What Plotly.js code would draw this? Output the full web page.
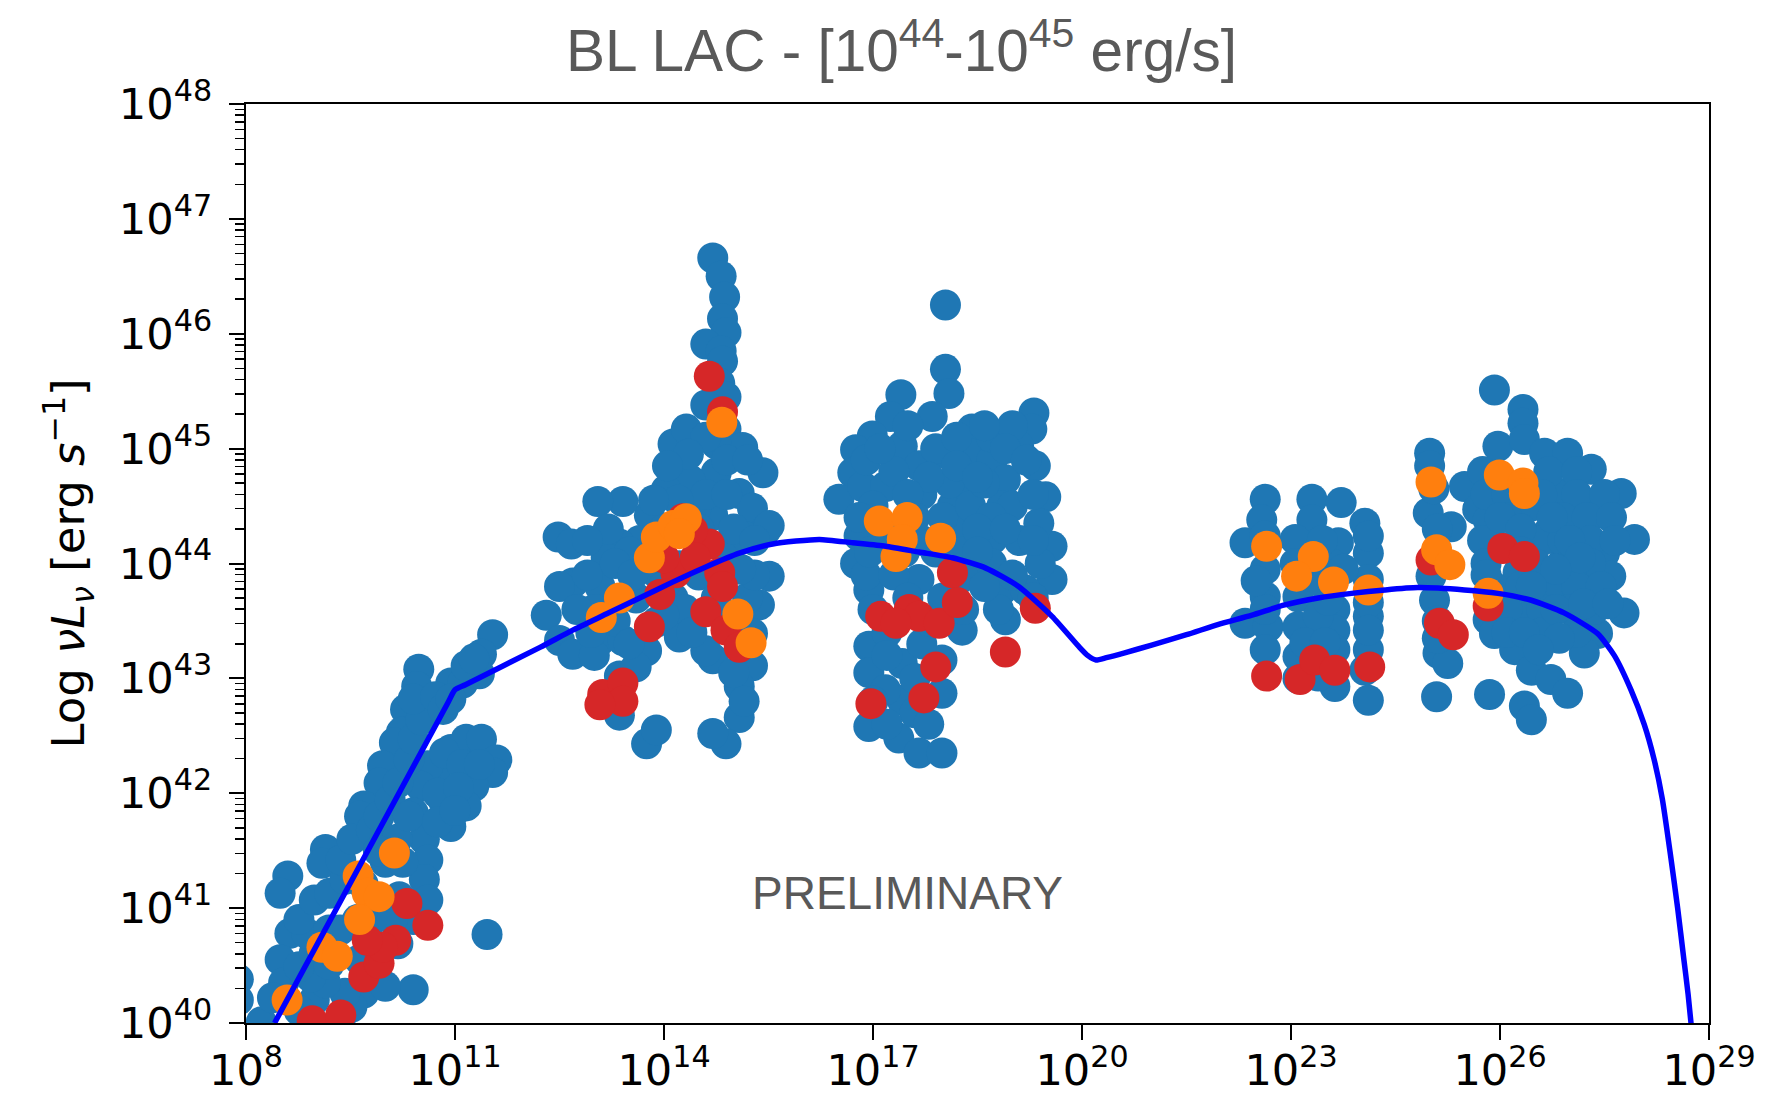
<!DOCTYPE html>
<html>
<head>
<meta charset="utf-8">
<script src="https://cdn.plot.ly/plotly-3.0.1.min.js"></script>
<style>html,body{margin:0;padding:0;background:#fff;}#chart{width:1778px;height:1095px;}</style>
</head>
<body>
<div id="chart"></div>
<script>
// All values are log10 of the quantity
// x: log10 frequency nu [Hz], y: log10 nuL_nu [erg/s]
const blueLogNu = [
 // radio
 11.54,11.38,11.35,10.94,10.48,10.45,10.61,10.29,10.23,10.13,9.96,9.91,9.69,9.63,9.14,9.09,8.60,8.49,8.63,8.49,8.54,8.98,8.76,8.22,7.89,7.89,10.40,11.46,10.94,11.16,11.38,11.60,11.54,11.27,11.16,10.94,10.83,10.72,10.61,10.51,10.40,10.56,10.61,10.56,10.61,10.40,10.18,9.91,9.63,9.69,9.52,9.42,9.14,8.93,8.76,8.98,8.87,8.76,8.98,9.20,9.42,9.36,9.52,9.80,9.91,10.07,10.18,10.34,10.40,10.51,10.40,10.72,11.11,11.16,11.27,10.83,10.94,
 8.38,9.19,9.35,9.68,10.0,10.17,9.84,9.19,9.35,10.0,10.25,10.33,10.2,9.9,9.6,10.1,
 10.85,11.1,11.35,10.75,11.05,10.75,11.0,
 // IR-optical-UV
 14.70,14.82,14.87,14.84,14.89,14.60,14.82,14.84,14.80,14.89,14.60,14.89,14.13,14.32,15.13,15.42,14.75,14.75,14.37,14.03,15.08,15.27,15.46,15.51,15.37,15.27,15.27,15.08,15.08,14.89,14.70,14.70,14.89,14.89,15.18,14.70,14.46,13.79,13.65,13.41,13.05,12.48,12.67,13.10,13.36,12.69,12.50,12.31,12.50,12.69,13.08,13.17,13.08,13.41,13.75,13.89,14.22,14.13,14.22,13.89,13.36,13.36,13.75,13.89,14.60,15.51,
 13.0,13.3,13.6,13.7,14.0,14.3,14.5,14.5,14.0,13.5,13.2,12.9,13.0,13.6,14.6,14.9,15.0,15.2,15.3,14.6,
 12.9,13.3,13.55,14.2,14.9,15.2,15.3,15.1,14.75,14.4,12.95,12.75,13.5,14.0,15.0,15.0,15.15,13.85,14.35,14.05,
 // X-ray
 18.04,18.04,18.09,17.40,17.25,17.85,18.42,19.31,19.28,19.09,16.99,16.75,16.71,16.51,16.85,17.42,17.66,18.04,18.38,18.71,18.90,19.33,19.48,18.85,18.33,18.14,17.18,16.80,16.75,16.94,17.66,18.23,18.57,18.85,19.57,19.57,19.38,18.71,18.28,18.90,18.28,16.94,16.94,17.42,17.99,17.99,17.42,16.94,17.37,17.66,17.99,17.18,19.19,
 16.9,17.3,17.7,18.1,17.0,17.5,17.9,18.2,16.8,17.2,17.6,18.0,18.4,16.9,17.3,17.9,18.3,17.0,17.5,18.0,18.3,17.2,17.7,17.2,17.6,17.0,17.6,17.2,17.8,18.7,19.0,18.6,19.0,19.3,18.7,19.1,19.4,18.7,19.0,19.3,18.8,
 17.1,17.8,18.2,18.5,18.9,19.2,16.95,17.45,17.7,18.5,18.9,19.3,18.5,18.6,17.8,17.5,18.6,
 // Fermi-LAT
 22.63,22.58,22.34,22.63,22.63,22.34,22.67,22.63,23.30,23.30,23.72,24.06,23.68,23.06,24.11,24.11,24.11,23.10,23.63,23.10,23.63,23.10,23.63,24.11,23.63,24.11,
 23.06,23.39,23.58,23.39,23.20,23.49,23.39,23.53,24.11,24.11,24.11,24.06,22.63,22.63,23.1,
 23.45,22.5,23.25,23.75,
 // TeV
 25.92,26.33,26.33,24.99,24.99,25.97,26.35,26.64,26.97,27.31,27.74,27.93,25.49,24.97,25.68,26.45,26.92,27.40,27.12,27.50,27.59,27.78,26.92,26.69,25.83,25.01,25.06,25.11,25.25,25.83,25.92,26.45,26.92,27.40,27.21,26.21,26.45,26.73,26.97,26.35,26.45,25.09,25.85,26.26,25.97,25.30,
 25.75,26.7,27.1,25.8,26.1,26.6,27.1,27.5,26.1,26.9,27.25,27.6,25.75,26.6,26.9,27.3,27.65,25.8,26.5,27.0,27.3,25.9,26.3,26.7,27.1,27.45,26.1,26.6,27.0,27.35,26.1,26.6,27.1,25.05,25.1,25.05,25.1,25.1,
 26.0,26.3,26.75,27.0,27.15,26.3,26.8,26.45,26.8,27.2,27.55,26.35,26.85,25.8,26.55
];
const blueLogL = [
 43.38,43.21,43.04,42.96,43.08,42.93,42.76,42.73,42.53,42.44,42.24,42.09,41.89,41.80,41.51,41.39,41.28,41.13,40.78,40.55,40.35,40.20,40.11,40.01,40.38,40.20,40.29,40.77,42.38,42.47,42.47,42.29,42.18,42.06,41.89,41.71,41.94,42.18,42.24,42.06,41.83,41.60,41.42,41.25,41.07,40.90,40.69,40.61,40.55,40.26,40.14,40.26,40.35,40.40,40.49,40.61,40.78,40.90,41.07,41.13,41.25,41.42,41.60,41.68,41.80,41.94,42.09,42.29,42.47,42.64,42.82,42.84,42.96,43.11,43.17,42.73,42.82,
 40.22,40.81,40.81,41.21,41.40,41.60,40.91,40.51,40.02,40.32,41.40,41.80,41.1,41.5,40.9,40.9,
 42.35,42.25,42.25,42.0,42.05,41.75,41.85,
 46.66,46.50,46.32,46.13,46.01,45.91,45.85,45.76,45.57,45.45,45.38,45.17,45.04,45.17,45.01,44.79,45.04,44.79,44.73,44.64,44.61,44.48,44.29,43.89,43.64,43.39,43.11,42.93,42.66,42.43,42.52,43.17,43.48,44.11,44.23,44.42,44.48,44.42,44.20,44.54,44.54,44.23,44.17,44.20,44.17,43.83,43.80,43.55,43.33,43.21,43.80,44.05,43.33,43.33,43.24,43.49,43.36,43.70,43.98,43.92,43.02,42.68,42.43,42.55,43.24,44.33,
 43.6,43.5,43.7,44.0,43.8,43.6,43.9,44.3,44.3,44.1,44.3,43.9,43.2,43.1,44.6,44.9,44.3,43.7,43.9,45.1,
 44.2,44.0,43.9,44.55,44.6,44.9,44.2,43.95,43.7,43.4,43.4,43.6,43.3,43.55,43.5,43.05,42.8,44.55,44.95,44.85,
 46.25,45.69,45.48,45.47,45.28,45.28,45.17,45.31,45.17,45.02,45.11,44.99,44.79,44.56,44.67,45.02,44.85,44.96,44.96,44.90,44.73,44.85,44.58,44.50,44.67,44.50,44.67,44.24,44.00,43.77,43.86,43.86,43.97,43.77,43.86,44.15,44.35,44.21,44.32,43.51,43.42,43.28,43.05,43.13,43.16,42.87,42.81,42.58,42.48,42.35,42.35,42.90,43.77,
 44.9,44.8,44.6,44.7,44.5,45.2,45.0,45.1,44.4,44.3,44.4,44.4,44.5,43.9,43.9,44.1,44.1,43.6,43.7,43.7,43.6,43.4,43.3,43.2,43.0,42.8,42.7,42.6,42.6,45.1,45.2,44.7,44.5,44.6,44.4,44.2,44.0,44.0,43.9,43.7,43.6,
 45.0,44.75,44.85,44.75,45.0,44.9,44.1,44.1,44.2,44.3,44.3,44.2,44.1,43.8,43.5,44.6,45.2,
 44.56,44.38,44.18,43.95,43.71,43.48,43.45,43.25,44.56,44.38,44.53,44.35,44.18,44.21,44.09,43.86,43.54,43.71,43.60,43.45,43.42,43.19,43.25,43.25,42.93,42.81,
 44.0,43.95,44.0,43.54,43.31,43.31,43.02,43.68,44.24,43.66,43.42,43.07,44.24,43.6,43.0,
 44.2,43.85,43.85,43.95,
 45.51,45.34,45.22,44.96,44.85,45.02,45.08,44.96,44.96,44.82,44.61,44.21,44.67,44.44,44.47,44.50,44.61,44.44,44.27,44.09,43.89,43.57,44.03,44.27,44.38,43.89,43.68,43.22,43.13,43.51,43.39,43.57,43.68,43.39,43.22,43.25,43.07,42.99,42.87,42.76,42.64,42.84,42.86,43.92,44.15,44.32,
 44.8,44.8,44.8,44.6,44.6,44.6,44.6,44.6,44.4,44.4,44.4,44.4,44.2,44.2,44.2,44.2,44.2,44.0,44.0,44.0,44.0,43.8,43.8,43.8,43.8,43.8,43.6,43.6,43.6,43.6,43.4,43.4,43.4,44.65,44.3,43.95,43.5,43.35,
 44.4,44.3,44.4,44.2,44.05,44.1,43.95,43.8,43.6,43.65,43.65,43.4,43.35,43.9,43.25
];
const redLogNu = [
 8.95,9.36,9.69,9.91,10.15,10.31,10.61,9.96,9.74,
 14.65,14.84,14.27,14.65,14.17,13.94,13.79,14.80,14.84,14.60,14.89,15.08,13.12,13.41,13.41,13.08,14.41,14.45,14.0,
 18.14,17.11,17.52,17.66,17.95,18.21,17.33,19.33,18.90,17.90,17.73,16.97,
 22.65,23.13,23.34,23.63,24.13,
 25.01,26.04,26.35,25.83,25.13,25.33
];
const redLogL = [
 40.02,40.07,40.40,40.52,40.72,41.04,40.85,40.66,40.72,
 45.63,45.32,44.39,44.17,43.92,43.73,43.45,43.92,43.80,43.58,43.42,43.27,42.86,42.96,42.80,42.77,44.29,44.05,44.05,
 43.92,43.54,43.60,43.54,43.48,43.66,43.48,43.61,43.23,43.10,42.83,42.78,
 43.02,42.99,43.16,43.07,43.10,
 44.03,44.13,44.06,43.63,43.48,43.38
];
const orangeLogNu = [
 8.59,9.09,9.31,9.61,9.74,9.91,9.63,10.13,
 14.83,13.79,13.89,14.13,14.32,14.22,13.36,13.10,15.06,15.25,
 17.09,17.49,17.42,17.33,17.97,
 22.65,23.32,23.08,23.61,24.11,
 25.01,25.99,26.33,26.35,25.09,25.28,25.83
];
const orangeLogL = [
 40.20,40.66,40.58,41.28,41.13,41.10,40.90,41.48,
 45.23,44.05,44.23,44.33,44.39,44.26,43.70,43.53,43.56,43.31,
 44.37,44.40,44.21,44.06,44.22,
 44.15,44.06,43.89,43.84,43.77,
 44.71,44.77,44.70,44.61,44.12,43.99,43.74
];
const modelLogNu = [8.41,10.9,11.0,11.15,12.22,12.69,13.17,13.65,14.13,14.60,15.08,15.56,16.23,16.71,17.18,17.66,18.14,18.62,19.09,19.57,19.95,20.08,20.2,20.35,20.6,21.0,21.5,21.96,22.44,22.91,23.39,23.87,24.35,24.82,25.49,25.97,26.45,26.92,27.40,27.64,27.88,28.07,28.21,28.33,28.45,28.55,28.64,28.70,28.75];
const modelLogL = [40.0,42.79,42.9,42.945,43.27,43.42,43.56,43.70,43.84,43.97,44.09,44.17,44.21,44.18,44.15,44.10,44.05,43.96,43.80,43.54,43.28,43.2,43.16,43.18,43.22,43.29,43.38,43.47,43.55,43.64,43.70,43.74,43.77,43.79,43.77,43.74,43.68,43.57,43.39,43.2,42.9,42.6,42.3,41.95,41.45,41.0,40.55,40.25,39.95];

const xTickStart = 8;       // log10 of first x tick
const xTickStep = 3;        // decades between x ticks
const titleText = 'BL LAC - [10<sup>44</sup>-10<sup>45</sup> erg/s]';
const yTitleText = 'Log <i>νL</i><sub><i>ν</i></sub> [erg <i>s</i><sup>−1</sup>]';
const watermark = 'PRELIMINARY';

const p10 = a => a.map(v => Math.pow(10, v));
const MS = 31;

const traces = [
  {x: p10(blueLogNu), y: p10(blueLogL), type:'scatter', mode:'markers', name:'data',
   marker:{color:'#1f77b4', size:MS, line:{width:0}}},
  {x: p10(redLogNu), y: p10(redLogL), type:'scatter', mode:'markers', name:'red',
   marker:{color:'#d62728', size:MS, line:{width:0}}},
  {x: p10(orangeLogNu), y: p10(orangeLogL), type:'scatter', mode:'markers', name:'orange',
   marker:{color:'#ff7f0e', size:MS, line:{width:0}}},
  {x: p10(modelLogNu), y: p10(modelLogL), type:'scatter', mode:'lines', name:'model',
   line:{color:'#0000ff', width:5.5, shape:'spline', smoothing:0.6}}
];

const tickFont = {family:'DejaVu Sans', size:34.5, color:'#000'};
const layout = {
  width:1778, height:1095,
  margin:{l:246, r:69, t:104, b:72, pad:0},
  paper_bgcolor:'#fff', plot_bgcolor:'#fff',
  showlegend:false,
  title:{text:titleText, font:{family:'Liberation Sans', size:58.5, color:'#595959'},
         xref:'container', x:0.507, xanchor:'center', yref:'container', y:0.935, yanchor:'bottom'},
  xaxis:{type:'log', range:[8,29], tick0:xTickStart, dtick:xTickStep, exponentformat:'power',
         showgrid:false, zeroline:false, showline:true, linecolor:'#000', linewidth:2, mirror:true,
         ticks:'outside', ticklen:15, tickwidth:2, tickcolor:'#000', tickfont:tickFont,
         ticklabelstandoff:-5},
  yaxis:{type:'log', range:[40,48], dtick:1, exponentformat:'power',
         showgrid:false, zeroline:false, showline:true, linecolor:'#000', linewidth:2, mirror:true,
         ticks:'outside', ticklen:15, tickwidth:2, tickcolor:'#000', tickfont:tickFont,
         ticklabelstandoff:10,
         minor:{ticks:'outside', ticklen:9, tickwidth:1.5, tickcolor:'#000', dtick:'D1', showgrid:false},
         title:{text:yTitleText, font:{family:'DejaVu Sans', size:45, color:'#000'}, standoff:20}},
  annotations:[{text:watermark, xref:'paper', yref:'paper', x:0.452, y:0.141, xanchor:'center', yanchor:'middle',
                showarrow:false, font:{family:'Liberation Sans', size:46, color:'#595959'}}]
};
Plotly.newPlot('chart', traces, layout, {displayModeBar:false, staticPlot:true});
</script>
</body>
</html>
